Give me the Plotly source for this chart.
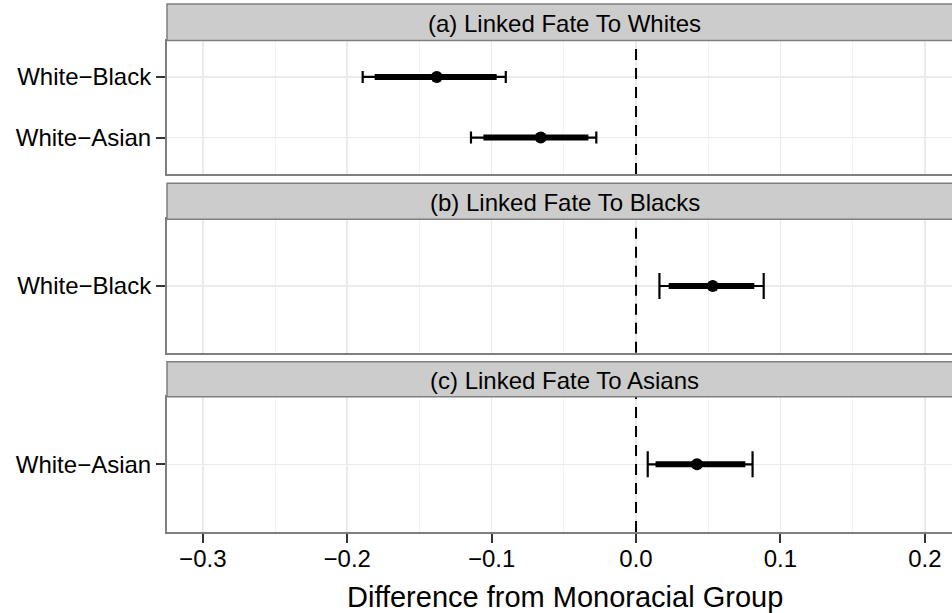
import plotly.graph_objects as go

# ---------------- data ----------------
facet_titles = ["(a) Linked Fate To Whites", "(b) Linked Fate To Blacks", "(c) Linked Fate To Asians"]
facet_a_groups = ["White\u2212Black", "White\u2212Asian"]
facet_a_est = [-0.138, -0.066]
facet_a_lo95 = [-0.1893, -0.1143]
facet_a_hi95 = [-0.0902, -0.0275]
facet_a_lo90 = [-0.181, -0.1057]
facet_a_hi90 = [-0.0965, -0.033]

facet_b_groups = ["White\u2212Black"]
facet_b_est = [0.0531]
facet_b_lo95 = [0.0162]
facet_b_hi95 = [0.0884]
facet_b_lo90 = [0.0226]
facet_b_hi90 = [0.0819]

facet_c_groups = ["White\u2212Asian"]
facet_c_est = [0.0422]
facet_c_lo95 = [0.0081]
facet_c_hi95 = [0.0807]
facet_c_lo90 = [0.0135]
facet_c_hi90 = [0.0757]

x_tickvals = [-0.3, -0.2, -0.1, 0.0, 0.1, 0.2]
x_ticktext = ["\u22120.3", "\u22120.2", "\u22120.1", "0.0", "0.1", "0.2"]
ref_value = 0.0
x_title = "Difference from Monoracial Group"

facets = [
    (facet_a_groups, facet_a_est, facet_a_lo95, facet_a_hi95, facet_a_lo90, facet_a_hi90),
    (facet_b_groups, facet_b_est, facet_b_lo95, facet_b_hi95, facet_b_lo90, facet_b_hi90),
    (facet_c_groups, facet_c_est, facet_c_lo95, facet_c_hi95, facet_c_lo90, facet_c_hi90),
]

# ---------------- layout geometry (pixels) ----------------
W, H = 952, 613
ML, MR, MT, MB = 167, 0, 4, 81
plot_h = H - MT - MB
bottom_px = H - MB

def py(Y):
    return (bottom_px - Y) / plot_h

# (strip_top, panel_top, panel_bottom)
geom = [(4, 40.5, 174.0), (183.3, 219.3, 352.7), (361.7, 396.7, 532.0)]
cap_px = [6, 13, 13]

FONT = "Liberation Sans, Arial, Helvetica, sans-serif"
GRID = "#EBEBEB"
MINOR = "#F3F3F3"
BORDER = "#7F7F7F"

fig = go.Figure()
layout = dict(
    width=W, height=H,
    margin=dict(l=ML, r=MR, t=MT, b=MB),
    paper_bgcolor="white", plot_bgcolor="white",
    showlegend=False, hovermode=False,
    font=dict(family=FONT, color="black"),
    shapes=[], annotations=[],
)

xr = [-0.3248, 0.2188]
for i, (groups, est, lo95, hi95, lo90, hi90) in enumerate(facets):
    n = i + 1
    xa = "x" if n == 1 else f"x{n}"
    ya = "y" if n == 1 else f"y{n}"
    st, pt, pb = geom[i]

    # thin 95% interval with caps
    fig.add_trace(go.Scatter(
        x=est, y=groups, xaxis=xa, yaxis=ya, mode="markers",
        marker=dict(size=1, color="rgba(0,0,0,0)"),
        error_x=dict(type="data", symmetric=False,
                     array=[h - e for h, e in zip(hi95, est)],
                     arrayminus=[e - l for e, l in zip(est, lo95)],
                     color="black", thickness=2.2, width=cap_px[i]),
    ))
    # thick 90% interval
    fig.add_trace(go.Scatter(
        x=est, y=groups, xaxis=xa, yaxis=ya, mode="markers",
        marker=dict(size=1, color="rgba(0,0,0,0)"),
        error_x=dict(type="data", symmetric=False,
                     array=[h - e for h, e in zip(hi90, est)],
                     arrayminus=[e - l for e, l in zip(est, lo90)],
                     color="black", thickness=6, width=0),
    ))
    # point estimate
    fig.add_trace(go.Scatter(
        x=est, y=groups, xaxis=xa, yaxis=ya, mode="markers",
        marker=dict(size=12, color="black"),
    ))

    last = (n == 3)
    xkey = "xaxis" if n == 1 else f"xaxis{n}"
    ykey = "yaxis" if n == 1 else f"yaxis{n}"
    layout[xkey] = dict(
        domain=[0, 1], anchor=ya, range=xr,
        tickmode="array", tickvals=x_tickvals, ticktext=x_ticktext,
        showticklabels=last, ticks="outside" if last else "",
        ticklen=9, tickwidth=2, tickcolor="#333333",
        ticklabelstandoff=-5,
        tickfont=dict(size=24, color="black", family=FONT),
        showgrid=True, gridcolor=GRID, gridwidth=1.5,
        minor=dict(tickmode="linear", tick0=0, dtick=0.05, showgrid=True, gridcolor=MINOR, gridwidth=1),
        zeroline=False, showline=True, linecolor=BORDER, linewidth=2, mirror=True,
    )
    if n > 1:
        layout[xkey]["matches"] = "x"
    k = len(groups)
    layout[ykey] = dict(
        domain=[py(pb), py(pt)], anchor=xa, type="category",
        categoryorder="array", categoryarray=list(reversed(groups)),
        range=[-0.6, k - 1 + 0.6],
        ticks="outside", ticklen=9, tickwidth=2, tickcolor="#333333",
        tickfont=dict(size=24, color="black", family=FONT),
        showgrid=True, gridcolor=GRID, gridwidth=1.5,
        zeroline=False, showline=True, linecolor=BORDER, linewidth=2, mirror=False,
    )
    # reference line
    layout["shapes"].append(dict(
        type="line", xref=xa, yref=f"{ya} domain", x0=ref_value, x1=ref_value, y0=0, y1=1,
        line=dict(color="black", width=2, dash="11px,8px"),
    ))
    # strip
    layout["shapes"].append(dict(
        type="rect", xref="paper", yref="paper", x0=0, x1=1.03, y0=py(pt), y1=py(st),
        fillcolor="#CCCCCC", line=dict(color=BORDER, width=1.5),
    ))
    layout["annotations"].append(dict(
        text=facet_titles[i], xref="paper", yref="paper",
        x=(564.7 - ML) / (W - ML - MR), y=(py(pt) + py(st)) / 2,
        xanchor="center", yanchor="middle", showarrow=False, yshift=-1,
        font=dict(size=24, color="black", family=FONT),
    ))

layout["annotations"].append(dict(
    text=x_title, xref="paper", yref="paper",
    x=(564.7 - ML) / (W - ML - MR), y=py(597),
    xanchor="center", yanchor="middle", showarrow=False,
    font=dict(size=29, color="black", family=FONT),
))

fig.update_layout(**layout)
fig.write_html(
    "out.html",
    config={"displayModeBar": False, "staticPlot": True},
    post_script="document.body.style.margin='0';document.body.style.overflow='hidden';",
)
